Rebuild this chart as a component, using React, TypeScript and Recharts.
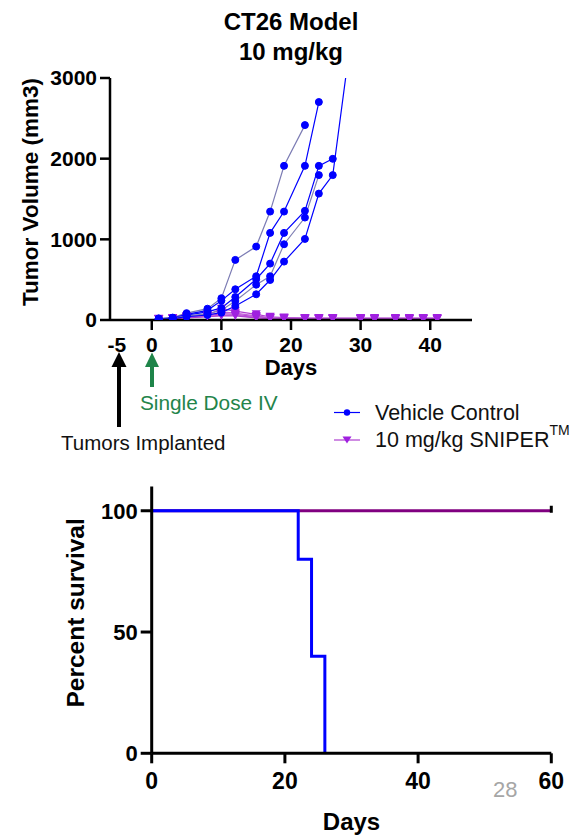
import React from 'react';
import { LineChart, Line, XAxis, YAxis } from 'recharts';

const FONT = '"Liberation Sans", Arial, Helvetica, sans-serif';

// tumour volume (mm3) per animal, vehicle group
const vehicleDays = [1, 3, 5, 8, 10, 12, 15, 17, 19, 22, 24, 26, 28];
const vehicleMouse1 = [20, 30, 85, 140, 270, 745, 910, 1344, 1911, 2416];
const vehicleMouse2 = [15, 25, 70, 120, 240, 381, 542, 1080, 1344, 1911, 2702];
const vehicleMouse3 = [12, 22, 60, 100, 150, 285, 505, 699, 1080, 1353, 1911, 1998];
const vehicleMouse4 = [10, 20, 50, 75, 120, 236, 438, 542, 939, 1270, 1796];
const vehicleMouse5 = [8, 18, 40, 62, 91, 174, 319, 496, 724, 1005, 1567, 1796, 3100];

// 10 mg/kg SNIPER group
const sniperDays = [1, 3, 5, 8, 10, 12, 15, 17, 19, 22, 24, 26, 30, 32, 35, 37, 39, 41];
const sniperMouse1 = [15, 25, 45, 60, 140, 110, 70, 40, 30, 25, 25, 25, 25, 25, 25, 25, 25, 25];
const sniperMouse2 = [12, 20, 40, 55, 100, 85, 50, 30, 25, 20, 20, 20, 20, 20, 20, 20, 20, 20];
const sniperMouse3 = [10, 20, 35, 50, 80, 70, 40, 25, 20, 20, 15, 15, 15, 15, 15, 15, 15, 15];
const sniperMouse4 = [10, 15, 30, 45, 60, 60, 30, 20, 15, 15, 15, 15, 10, 10, 10, 10, 10, 10];
const sniperMouse5 = [8, 15, 25, 40, 50, 50, 25, 15, 15, 10, 10, 10, 10, 10, 10, 10, 10, 10];

const volumeTicks = [0, 1000, 2000, 3000];
const dayTicks = [-5, 0, 10, 20, 30, 40];

// Kaplan-Meier
const vehicleSurvivalDays = [0, 22, 24, 26];
const vehicleSurvival = [100, 80, 40, 0];
const sniperSurvivalDays = [0, 60];
const sniperSurvival = [100, 100];
const survivalTicks = [0, 50, 100];
const survivalDayTicks = [0, 20, 40, 60];

const toSeries = (days: number[], values: number[], key: string) =>
  values.map((v, i) => ({ day: days[i], [key]: v }));

const vehicleGroup = [vehicleMouse1, vehicleMouse2, vehicleMouse3, vehicleMouse4, vehicleMouse5];
const sniperGroup = [sniperMouse1, sniperMouse2, sniperMouse3, sniperMouse4, sniperMouse5];
const vehicleStroke = ['#7c7cb4', '#0000ff', '#0000ff', '#8080b4', '#0000ff'];

const BLUE = '#0000ff';
const PURPLE = '#a020e0';

const bold = { fontFamily: FONT, fontWeight: 700, fill: '#000' };

const Triangle = (props: any) => {
  const { cx, cy, index } = props;
  if (cx == null || cy == null) return <g key={index} />;
  return (
    <polygon
      key={index}
      points={`${cx - 4.5},${cy - 4} ${cx + 4.5},${cy - 4} ${cx},${cy + 4}`}
      fill={PURPLE}
    />
  );
};

const DayTick = (props: any) => {
  const { x, y, payload } = props;
  const axisY = y - 14;
  return (
    <g>
      {payload.value !== -5 && (
        <line x1={x} x2={x} y1={axisY} y2={axisY + 10} stroke="#000" strokeWidth={2.5} />
      )}
      <text x={x} y={axisY + 32} textAnchor="middle" fontSize={21} {...bold}>
        {payload.value}
      </text>
    </g>
  );
};

const RotatedLabel = (props: any) => {
  const vb = props.viewBox || { x: 0, y: 0, width: 0, height: 0 };
  const cx = vb.x + props.dx0;
  const cy = vb.y + vb.height / 2 + props.dy0;
  return (
    <text
      x={cx}
      y={cy}
      transform={`rotate(-90 ${cx} ${cy})`}
      textAnchor="middle"
      dominantBaseline="central"
      fontSize={props.size}
      {...bold}
    >
      {props.text}
    </text>
  );
};

const BottomLabel = (props: any) => {
  const vb = props.viewBox || { x: 0, y: 0, width: 0, height: 0 };
  return (
    <text x={vb.x + vb.width / 2} y={vb.y + props.dy0} textAnchor="middle" fontSize={props.size} {...bold}>
      {props.text}
    </text>
  );
};

const CensorTick = (props: any) => {
  const { cx, cy, index } = props;
  if (index !== sniperSurvival.length - 1) return <g key={index} />;
  return <line key={index} x1={cx} x2={cx} y1={cy - 5} y2={cy + 2} stroke="#000" strokeWidth={3} />;
};

export default function App() {
  return (
    <div style={{ position: 'absolute', left: 0, top: 0, width: 586, height: 835, background: '#fff', overflow: 'hidden' }}>
      <div style={{ position: 'absolute', left: 0, top: 0 }}>
        <LineChart width={586} height={400} margin={{ top: 78, right: 114, bottom: 20, left: 0 }}>
          <XAxis
            dataKey="day"
            type="number"
            domain={[-6, 46]}
            ticks={dayTicks}
            allowDataOverflow
            height={60}
            tickSize={10}
            tickMargin={4}
            tickLine={false}
            tick={<DayTick />}
            axisLine={{ stroke: '#000', strokeWidth: 2.5 }}
            label={<BottomLabel text="Days" size={22} dy0={55} />}
          />
          <YAxis
            type="number"
            domain={[0, 3000]}
            ticks={volumeTicks}
            allowDataOverflow
            width={110}
            tickSize={10}
            tickMargin={3}
            tick={{ fontSize: 21, ...bold }}
            tickLine={{ stroke: '#000', strokeWidth: 2.5 }}
            axisLine={{ stroke: '#000', strokeWidth: 2.5 }}
            label={<RotatedLabel text="Tumor Volume (mm3)" size={22.5} dx0={30} dy0={-7} />}
          />
          {sniperGroup.map((m, i) => (
            <Line
              key={`s${i}`}
              data={toSeries(sniperDays, m, 'volume')}
              dataKey="volume"
              stroke={i % 2 === 0 ? '#b040d0' : '#c060d8'}
              strokeWidth={1.2}
              dot={<Triangle />}
              isAnimationActive={false}
            />
          ))}
          {vehicleGroup.map((m, i) => (
            <Line
              key={`v${i}`}
              data={toSeries(vehicleDays, m, 'volume')}
              dataKey="volume"
              stroke={vehicleStroke[i]}
              strokeWidth={1.2}
              dot={{ r: 3.5, fill: BLUE, stroke: BLUE, strokeWidth: 1 }}
              isAnimationActive={false}
            />
          ))}
        </LineChart>
      </div>

      <div style={{ position: 'absolute', left: 0, top: 460 }}>
        <LineChart width={586} height={375} margin={{ top: 26.5, right: 34.7, bottom: 1.7, left: 0 }}>
          <XAxis
            dataKey="day"
            type="number"
            domain={[0, 60]}
            ticks={survivalDayTicks}
            height={80}
            tickSize={10}
            tickMargin={9}
            tick={{ fontSize: 23, ...bold }}
            tickLine={{ stroke: '#000', strokeWidth: 3 }}
            axisLine={{ stroke: '#000', strokeWidth: 3 }}
            label={<BottomLabel text="Days" size={24} dy0={77} />}
          />
          <YAxis
            type="number"
            domain={[0, 110]}
            ticks={survivalTicks}
            width={151.7}
            tickSize={11}
            tickMargin={3}
            tick={{ fontSize: 22, ...bold }}
            tickLine={{ stroke: '#000', strokeWidth: 3 }}
            axisLine={{ stroke: '#000', strokeWidth: 3 }}
            label={<RotatedLabel text="Percent survival" size={24.5} dx0={76} dy0={-7} />}
          />
          <Line
            data={toSeries(sniperSurvivalDays, sniperSurvival, 'pct')}
            dataKey="pct"
            type="stepAfter"
            stroke="#800080"
            strokeWidth={3}
            dot={<CensorTick />}
            isAnimationActive={false}
          />
          <Line
            data={toSeries(vehicleSurvivalDays, vehicleSurvival, 'pct')}
            dataKey="pct"
            type="stepAfter"
            stroke={BLUE}
            strokeWidth={3}
            dot={false}
            isAnimationActive={false}
          />
        </LineChart>
      </div>

      <svg width={586} height={835} style={{ position: 'absolute', left: 0, top: 0, pointerEvents: 'none' }}>
        <text x={291} y={30} textAnchor="middle" fontSize={24} {...bold}>CT26 Model</text>
        <text x={291} y={60} textAnchor="middle" fontSize={24} {...bold}>10 mg/kg</text>

        {/* implant / dosing arrows */}
        <line x1={119} x2={119} y1={427} y2={364} stroke="#000" strokeWidth={4} />
        <polygon points="111.5,367 126.5,367 119,352" fill="#000" />
        <line x1={152} x2={152} y1={387} y2={364} stroke="#1e8449" strokeWidth={4} />
        <polygon points="145,367 159,367 152,352.5" fill="#1e8449" />
        <text x={140} y={410} fontSize={20.8} fontFamily={FONT} fill="#23844a">Single Dose IV</text>
        <text x={61} y={450} fontSize={20.5} fontFamily={FONT} fill="#111">Tumors Implanted</text>

        {/* legend */}
        <line x1={334} x2={360} y1={412.5} y2={412.5} stroke={BLUE} strokeWidth={1.2} />
        <circle cx={347} cy={412.5} r={3.2} fill={BLUE} />
        <text x={375} y={419.5} fontSize={21.5} fontFamily={FONT} fill="#111">Vehicle Control</text>
        <line x1={334} x2={360} y1={440} y2={440} stroke="#b040d0" strokeWidth={1.2} />
        <polygon points="342.5,436.5 351.5,436.5 347,443.5" fill={PURPLE} />
        <text x={375} y={447} fontSize={21.5} fontFamily={FONT} fill="#111">
          10 mg/kg SNIPER
          <tspan fontSize={14} dy={-12}>TM</tspan>
        </text>

        <text x={493} y={797} fontSize={22} fontFamily={FONT} fill="#a6a6a6">28</text>
      </svg>
    </div>
  );
}
